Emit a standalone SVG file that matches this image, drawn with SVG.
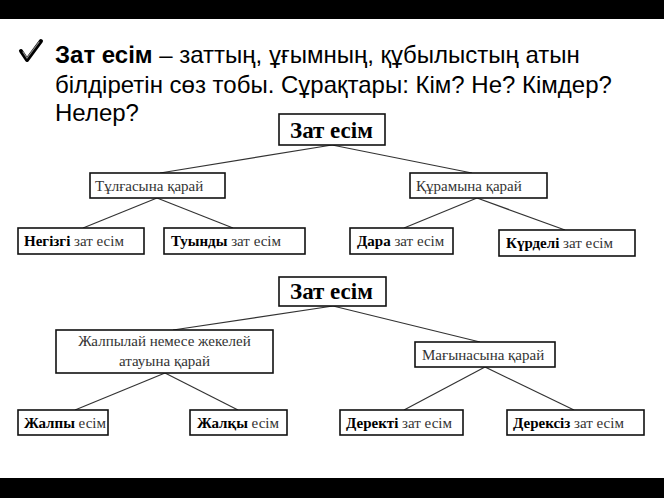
<svg xmlns="http://www.w3.org/2000/svg" width="664" height="498" viewBox="0 0 664 498">
<style>
.box{fill:#fff;stroke:#111;stroke-width:1.6}
.t{font-family:"Liberation Serif","Times New Roman",serif;font-size:15px;fill:#333}
.b{font-weight:bold;fill:#000}
.root{font-family:"Liberation Serif","Times New Roman",serif;font-size:23px;font-weight:bold;fill:#000}
.hd{font-family:"Liberation Sans",Arial,sans-serif;font-size:24px;fill:#000}
.ln{stroke:#333;stroke-width:1.2;fill:none}
</style>
<rect x="0" y="0" width="664" height="498" fill="#fff"/>
<rect x="0" y="0" width="664" height="19" fill="#000"/>
<rect x="0" y="478" width="664" height="20" fill="#000"/>
<g id="header">
<path d="M21,51 L27,60 L41,41" fill="none" stroke="#000" stroke-width="4" stroke-linecap="round" stroke-linejoin="round"/>
<path d="M23,52 L27,58 L39,42" fill="none" stroke="#888" stroke-width="1.2" stroke-linecap="round"/>
<text class="hd" x="55" y="63"><tspan font-weight="bold">Зат есім</tspan> – заттың, ұғымның, құбылыстың атын</text>
<text class="hd" x="55" y="93">білдіретін сөз тобы. Сұрақтары: Кім? Не? Кімдер?</text>
<text class="hd" x="55" y="121">Нелер?</text>
</g>
<g id="connectors">
<line class="ln" x1="332" y1="145" x2="160" y2="173"/>
<line class="ln" x1="332" y1="145" x2="472" y2="173"/>
<line class="ln" x1="157" y1="198" x2="83" y2="228"/>
<line class="ln" x1="157" y1="198" x2="233" y2="228"/>
<line class="ln" x1="477" y1="198" x2="404" y2="228"/>
<line class="ln" x1="477" y1="198" x2="565" y2="230"/>
<line class="ln" x1="333" y1="306" x2="173" y2="330"/>
<line class="ln" x1="333" y1="306" x2="480" y2="342"/>
<line class="ln" x1="165" y1="373" x2="75" y2="410"/>
<line class="ln" x1="165" y1="373" x2="238" y2="410"/>
<line class="ln" x1="485" y1="367" x2="404" y2="410"/>
<line class="ln" x1="485" y1="367" x2="574" y2="410"/>
</g>
<g id="root1"><rect class="box" x="279" y="114" width="106" height="31"/><text class="root" x="290" y="138">Зат есім</text></g>
<g id="tulga"><rect class="box" x="90" y="173" width="135" height="25"/><text class="t" x="95" y="191">Тұлғасына қарай</text></g>
<g id="qurama"><rect class="box" x="410" y="173" width="137" height="25"/><text class="t" x="416" y="191">Құрамына қарай</text></g>
<g id="negizgi"><rect class="box" x="18" y="228" width="126" height="26"/><text class="t" x="24" y="246"><tspan class="b">Негізгі</tspan> зат есім</text></g>
<g id="tuyndy"><rect class="box" x="164" y="228" width="141" height="26"/><text class="t" x="171" y="246"><tspan class="b">Туынды</tspan> зат есім</text></g>
<g id="dara"><rect class="box" x="350" y="228" width="103" height="26"/><text class="t" x="357" y="246"><tspan class="b">Дара</tspan> зат есім</text></g>
<g id="kurdeli"><rect class="box" x="499" y="230" width="136" height="26"/><text class="t" x="506" y="248"><tspan class="b">Күрделі</tspan> зат есім</text></g>
<g id="root2"><rect class="box" x="279" y="277" width="107" height="29"/><text class="root" x="290" y="299">Зат есім</text></g>
<g id="zhalpylai"><rect class="box" x="56" y="330" width="217" height="43"/><text class="t" x="164.5" y="346" text-anchor="middle">Жалпылай немесе жекелей</text><text class="t" x="164.5" y="366" text-anchor="middle">атауына қарай</text></g>
<g id="magyna"><rect class="box" x="415" y="342" width="140" height="25"/><text class="t" x="422" y="360">Мағынасына қарай</text></g>
<g id="zhalpy"><rect class="box" x="18" y="410" width="90" height="25"/><text class="t" x="24" y="428" font-size="14"><tspan class="b">Жалпы</tspan> есім</text></g>
<g id="zhalqy"><rect class="box" x="190" y="410" width="97" height="25"/><text class="t" x="197" y="428"><tspan class="b">Жалқы</tspan> есім</text></g>
<g id="derekti"><rect class="box" x="340" y="410" width="123" height="25"/><text class="t" x="346" y="428"><tspan class="b">Деректі</tspan> зат есім</text></g>
<g id="dereksiz"><rect class="box" x="507" y="410" width="137" height="25"/><text class="t" x="513" y="428"><tspan class="b">Дерексіз</tspan> зат есім</text></g>
</svg>
